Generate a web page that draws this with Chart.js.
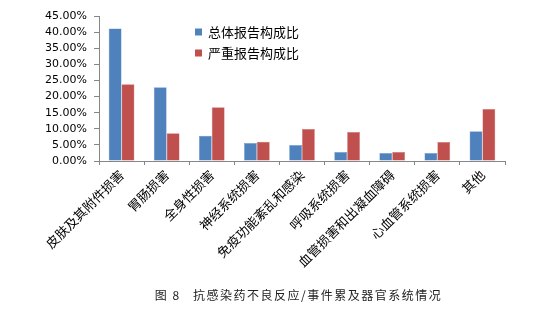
<!DOCTYPE html>
<html>
<head>
<meta charset="utf-8">
<script src="https://cdn.jsdelivr.net/npm/chart.js@4/dist/chart.umd.min.js"></script>
<style>
  html, body { margin: 0; padding: 0; background: #fff; }
  #wrap { position: relative; width: 557px; height: 318px; }
  #caption { position: absolute; left: 0; width: 557px; top: 286px; text-align: center;
    font-family: "Noto Sans CJK SC", sans-serif; font-size: 12px; color: #222; letter-spacing: 1.5px; padding-left: 40px; box-sizing: border-box; }
</style>
</head>
<body>
<div id="wrap">
  <canvas id="c" width="557" height="318"></canvas>
  <div id="caption">图 8&nbsp;&nbsp;&nbsp;抗感染药不良反应/事件累及器官系统情况</div>
</div>
<script>
const categories = ["皮肤及其附件损害", "胃肠损害", "全身性损害", "神经系统损害", "免疫功能紊乱和感染", "呼吸系统损害", "血管损害和出凝血障碍", "心血管系统损害", "其他"];
const seriesNames = ["总体报告构成比", "严重报告构成比"];
const overall = [41.1, 22.9, 7.8, 5.6, 5.0, 2.8, 2.5, 2.5, 9.2];
const severe = [23.8, 8.6, 16.7, 6.0, 9.9, 9.0, 2.8, 5.9, 16.1];
const colors = ["#4F81BD", "#C0504D"];

const legendPlugin = {
  id: 'insideLegend',
  afterDraw(chart) {
    const ctx = chart.ctx;
    ctx.save();
    ctx.font = '13px "Noto Sans CJK SC", sans-serif';
    ctx.textBaseline = 'middle';
    const rows = [32, 53];
    seriesNames.forEach((n, i) => {
      ctx.fillStyle = colors[i];
      ctx.fillRect(195, rows[i] - 3.5, 7, 7);
      ctx.fillStyle = '#000';
      ctx.fillText(n, 208, rows[i]);
    });
    ctx.restore();
  }
};

new Chart(document.getElementById('c'), {
  type: 'bar',
  data: {
    labels: categories,
    datasets: [
      { label: seriesNames[0], data: overall, backgroundColor: colors[0], borderColor: '#6f9bd1', borderWidth: 0.5 },
      { label: seriesNames[1], data: severe, backgroundColor: colors[1], borderColor: '#d07370', borderWidth: 0.5 }
    ]
  },
  options: {
    responsive: false,
    animation: false,
    layout: { padding: { top: 16, right: 52, left: 0, bottom: 0 } },
    plugins: { legend: { display: false }, tooltip: { enabled: false } },
    datasets: { bar: { categoryPercentage: 0.57, barPercentage: 1.0 } },
    scales: {
      x: {
        afterFit(s) { s.height = 157; },
        grid: { display: true, drawOnChartArea: false, drawTicks: true, tickLength: 4, color: '#868686', offset: true },
        border: { color: '#868686' },
        ticks: { minRotation: 45, maxRotation: 45, autoSkip: false, color: '#000', padding: 2,
          font: { family: '"Noto Sans CJK SC", sans-serif', size: 13 } }
      },
      y: {
        min: 0, max: 45,
        afterFit(s) { s.width = 99; },
        grid: { display: true, drawOnChartArea: false, drawTicks: true, tickLength: 5, color: '#868686' },
        border: { color: '#868686' },
        ticks: { stepSize: 5, autoSkip: false, color: '#000', padding: 7,
          font: { family: '"DejaVu Sans", sans-serif', size: 11 },
          callback: v => v.toFixed(2) + '%' }
      }
    }
  },
  plugins: [legendPlugin]
});
</script>
</body>
</html>
